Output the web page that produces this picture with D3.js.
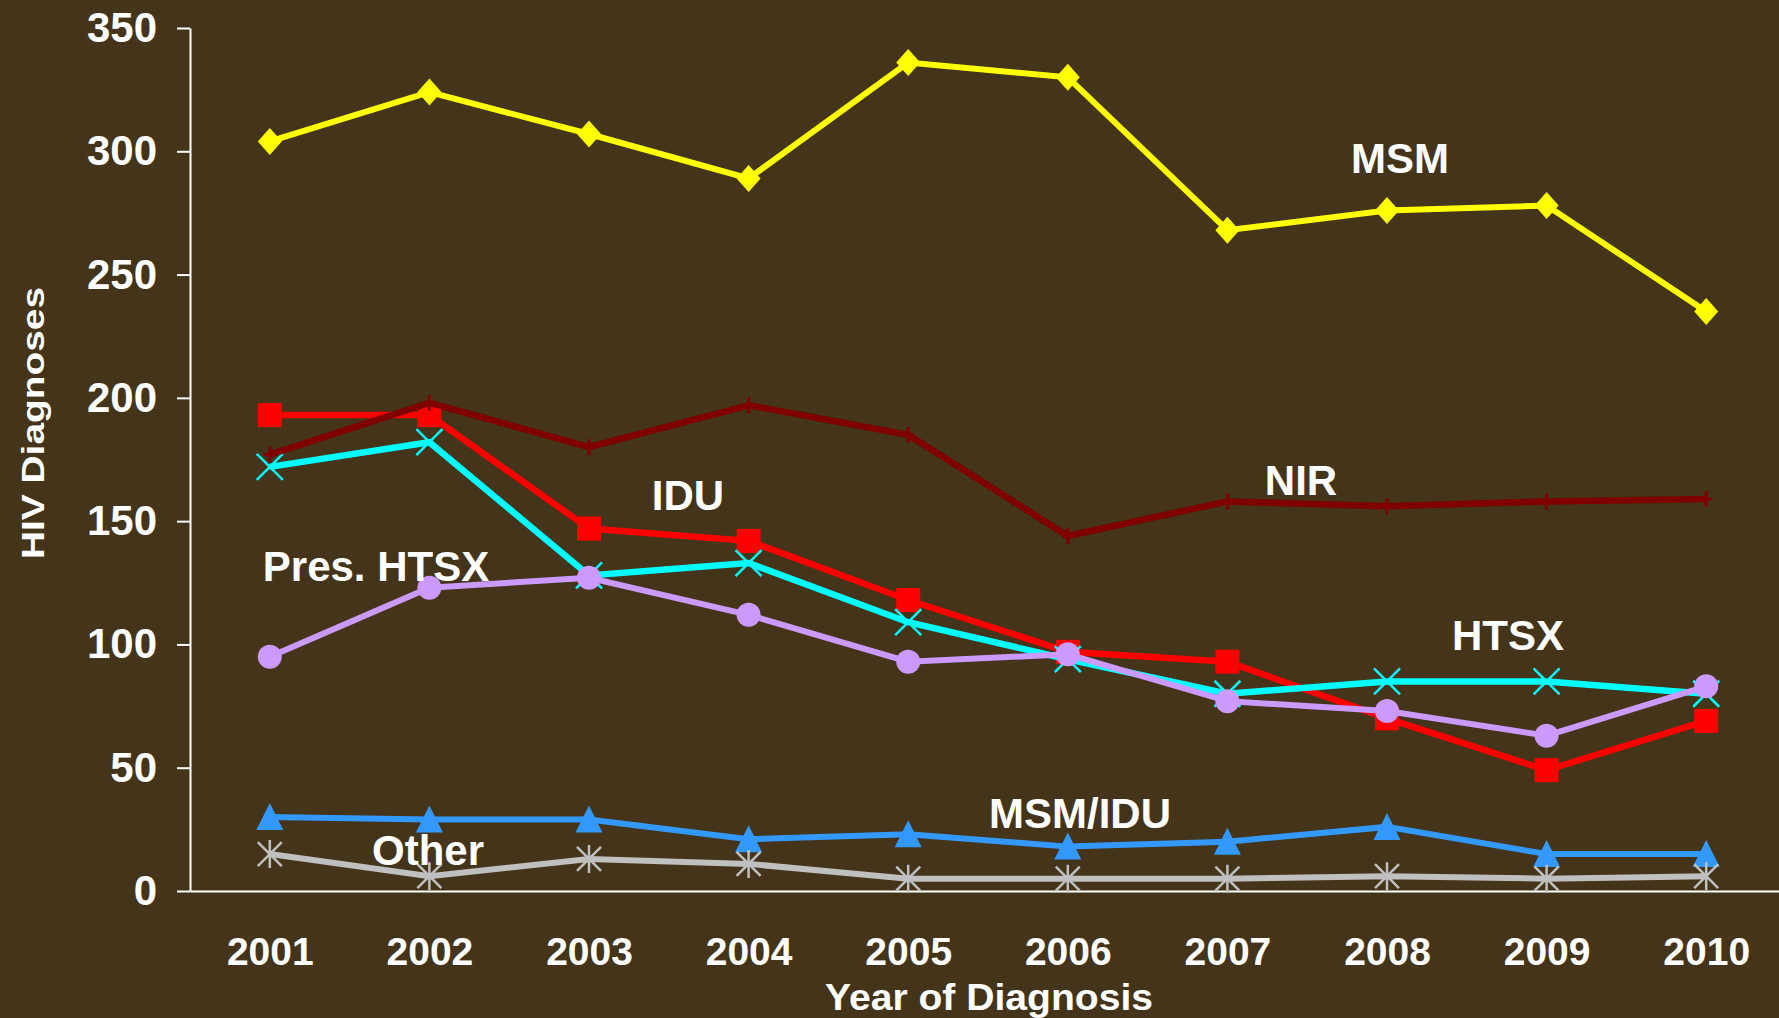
<!DOCTYPE html>
<html>
<head>
<meta charset="utf-8">
<script src="https://cdn.jsdelivr.net/npm/d3@7"></script>
<style>
  html, body { margin: 0; padding: 0; background: #443419; }
  svg { display: block; }
  text { font-family: "Liberation Sans", Arial, sans-serif; font-weight: bold; fill: #ffffff; }
</style>
</head>
<body>
<svg id="chart" width="1779" height="1018"></svg>
<script>
const years = ["2001","2002","2003","2004","2005","2006","2007","2008","2009","2010"];
const yTicks = [0, 50, 100, 150, 200, 250, 300, 350];

const msm      = [304, 324, 307, 289, 336, 330, 268, 276, 278, 235];
const idu      = [193, 193, 147, 142, 118, 97, 93, 70, 49, 69];
const htsx     = [172, 182, 128, 133, 109, 94, 80, 85, 85, 80];
const nir      = [177, 198, 180, 197, 185, 144, 158, 156, 158, 159];
const presHtsx = [95, 123, 127, 112, 93, 96, 77, 73, 63, 83];
const msmIdu   = [30, 29, 29, 21, 23, 18, 20, 26, 15, 15];
const other    = [15, 6, 13, 11, 5, 5, 5, 6, 5, 6];

const seriesNames = ["MSM", "IDU", "HTSX", "NIR", "Pres. HTSX", "MSM/IDU", "Other"];

const W = 1779, H = 1018;
const svg = d3.select("#chart");
svg.append("rect").attr("width", W).attr("height", H).attr("fill", "#443419");

const x = d3.scalePoint().domain(years).range([190, 1786]).padding(0.5);
const y = d3.scaleLinear().domain([0, 350]).range([891, 28]);

// axes
const yAxis = svg.append("g").attr("transform", "translate(190,0)")
  .call(d3.axisLeft(y).tickValues(yTicks).tickSize(13).tickSizeOuter(0).tickPadding(20));
yAxis.select(".domain").attr("stroke", "#fff").attr("stroke-width", 2);
yAxis.selectAll(".tick line").attr("stroke", "#fff").attr("stroke-width", 2);
yAxis.selectAll(".tick text").attr("fill", "#fff").style("font-size", "42px")
  .style("font-family", "'Liberation Sans', Arial, sans-serif").style("font-weight", "bold");

const xAxis = svg.append("g").attr("transform", "translate(0,891)")
  .call(d3.axisBottom(x).tickSize(0).tickSizeOuter(0).tickPadding(46));
xAxis.select(".domain").attr("stroke", "#fff").attr("stroke-width", 2);
xAxis.selectAll(".tick text").attr("fill", "#fff").style("font-size", "39px")
  .style("font-family", "'Liberation Sans', Arial, sans-serif").style("font-weight", "bold");

// axis titles
svg.append("text").attr("x", 989).attr("y", 1010).attr("text-anchor", "middle")
  .style("font-size", "36px").attr("textLength", 328).attr("lengthAdjust", "spacingAndGlyphs")
  .text("Year of Diagnosis");
svg.append("text").attr("transform", "translate(44,423) rotate(-90)").attr("text-anchor", "middle")
  .style("font-size", "32px").attr("textLength", 272).attr("lengthAdjust", "spacingAndGlyphs")
  .text("HIV Diagnoses");

// marker shapes
const markers = {
  diamond: (g, c) => g.append("path").attr("d", "M0,-13.5L12,0L0,13.5L-12,0Z").attr("fill", c),
  square: (g, c) => g.append("rect").attr("x", -12).attr("y", -12).attr("width", 24).attr("height", 24).attr("fill", c),
  circle: (g, c) => g.append("circle").attr("r", 12).attr("fill", c),
  triangle: (g, c) => g.append("path").attr("d", "M0,-14L13.5,13L-13.5,13Z").attr("fill", c),
  x: (g, c) => g.append("path").attr("d", "M-13,-13L13,13M-13,13L13,-13").attr("stroke", c).attr("stroke-width", 2.5).attr("fill", "none"),
  star: (g, c) => g.append("path").attr("d", "M-12,-12L12,12M-12,12L12,-12M0,-14L0,14").attr("stroke", c).attr("stroke-width", 2.5).attr("fill", "none"),
  plus: (g, c) => g.append("path").attr("d", "M-6,0L6,0M0,-8L0,8").attr("stroke", c).attr("stroke-width", 3).attr("fill", "none")
};

const series = [
  { values: msm, color: "#ffff00", marker: "diamond", width: 6 },
  { values: idu, color: "#ff0000", marker: "square", width: 6.5 },
  { values: htsx, color: "#00ffff", marker: "x", width: 6.5 },
  { values: nir, color: "#800000", marker: "plus", width: 6.5 },
  { values: presHtsx, color: "#cc99ff", marker: "circle", width: 6 },
  { values: msmIdu, color: "#3399ff", marker: "triangle", width: 6 },
  { values: other, color: "#c0c0c0", marker: "star", width: 6 }
];

const line = d3.line().x((d, i) => x(years[i])).y(d => y(d));

series.forEach((s, si) => {
  const g = svg.append("g").attr("class", "series").attr("data-name", seriesNames[si]);
  g.append("path").attr("d", line(s.values)).attr("fill", "none")
    .attr("stroke", s.color).attr("stroke-width", s.width).attr("stroke-linejoin", "miter");
  s.values.forEach((v, i) => {
    const mg = g.append("g").attr("transform", `translate(${x(years[i])},${y(v)})`);
    markers[s.marker](mg, s.color);
  });
});

// series labels
const labels = [
  { text: "MSM", x: 1400, y: 173 },
  { text: "NIR", x: 1301, y: 495 },
  { text: "IDU", x: 688, y: 510 },
  { text: "Pres. HTSX", x: 376, y: 581 },
  { text: "HTSX", x: 1508, y: 650 },
  { text: "MSM/IDU", x: 1080, y: 828 },
  { text: "Other", x: 428, y: 865 }
];
svg.selectAll("text.lbl").data(labels).join("text").attr("class", "lbl")
  .attr("x", d => d.x).attr("y", d => d.y).attr("text-anchor", "middle")
  .style("font-size", "42px").text(d => d.text);
</script>
</body>
</html>
